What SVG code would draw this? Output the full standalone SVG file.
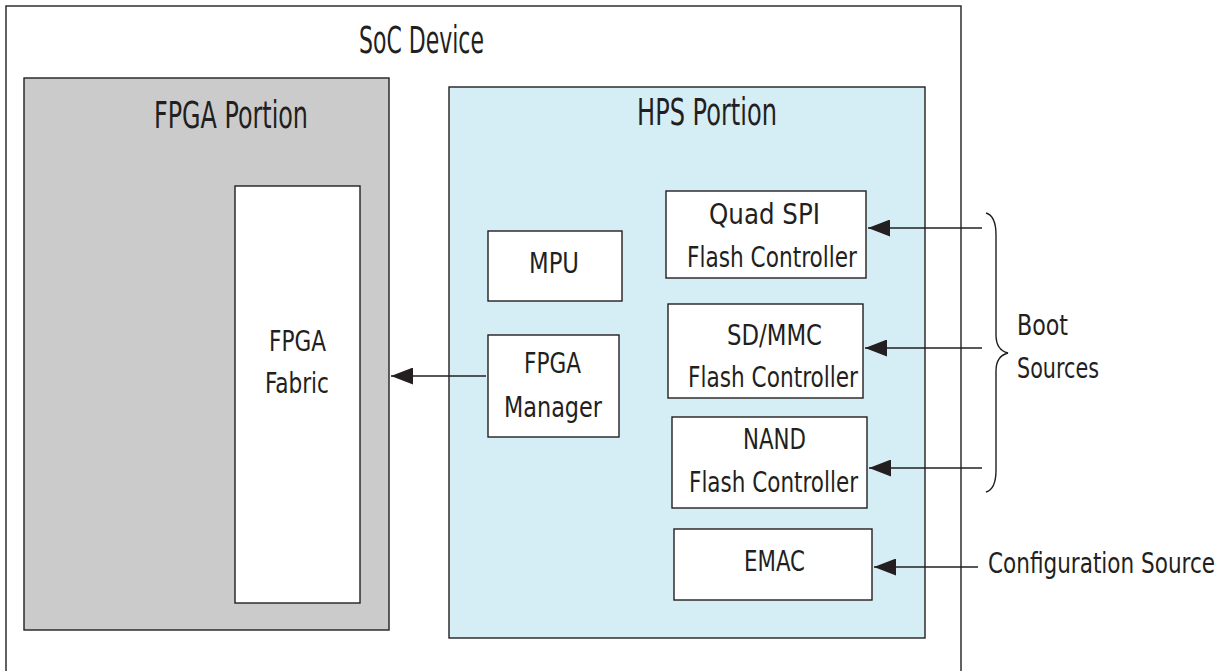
<svg xmlns="http://www.w3.org/2000/svg" width="1229" height="671" viewBox="0 0 1229 671">
<style>
.box{stroke:#231f20;stroke-width:1.4;}
.w{fill:#ffffff;}
.t{font-family:"Liberation Sans Narrow","DejaVu Sans Condensed","Liberation Sans",sans-serif;font-stretch:condensed;fill:#231f20;font-size:29px;}
.h{font-size:37px;}
.m{text-anchor:middle;}
.c{stroke:#231f20;stroke-width:1.4;fill:none;}
</style>
<defs>
<marker id="ah" viewBox="0 0 22 17" refX="22" refY="8.5" markerWidth="22" markerHeight="17" markerUnits="userSpaceOnUse" orient="auto">
<path d="M0,0 L22,8.5 L0,17 z" fill="#231f20"/>
</marker>
</defs>
<rect width="1229" height="671" fill="#ffffff"/>
<g id="soc">
<rect class="box" x="6" y="6" width="955" height="700" fill="#ffffff"/>
<text class="t h m" x="421.5" y="53" textLength="125" lengthAdjust="spacingAndGlyphs">SoC Device</text>
</g>
<g id="fpga-portion">
<rect class="box" x="24" y="78" width="365" height="552" fill="#cbcbcb"/>
<text class="t h m" x="231" y="128" textLength="154" lengthAdjust="spacingAndGlyphs">FPGA Portion</text>
</g>
<g id="fpga-fabric">
<rect class="box w" x="235" y="186" width="125" height="417"/>
<text class="t m" x="297.5" y="351" textLength="57" lengthAdjust="spacingAndGlyphs">FPGA</text>
<text class="t m" x="297" y="393" textLength="64" lengthAdjust="spacingAndGlyphs">Fabric</text>
</g>
<g id="hps-portion">
<rect class="box" x="449" y="87" width="476" height="551" fill="#d5edf4"/>
<text class="t h m" x="707" y="125" textLength="140" lengthAdjust="spacingAndGlyphs">HPS Portion</text>
</g>
<g id="mpu">
<rect class="box w" x="488" y="231" width="134" height="70"/>
<text class="t m" x="554" y="273" textLength="50" lengthAdjust="spacingAndGlyphs">MPU</text>
</g>
<g id="fpga-manager">
<rect class="box w" x="488" y="335" width="131" height="102"/>
<text class="t m" x="552.5" y="373" textLength="57" lengthAdjust="spacingAndGlyphs">FPGA</text>
<text class="t m" x="553" y="417" textLength="98" lengthAdjust="spacingAndGlyphs">Manager</text>
</g>
<g id="qspi">
<rect class="box w" x="666" y="191" width="200" height="87"/>
<text class="t m" x="764.5" y="224" textLength="111" lengthAdjust="spacingAndGlyphs">Quad SPI</text>
<text class="t m" x="772" y="267" textLength="170" lengthAdjust="spacingAndGlyphs">Flash Controller</text>
</g>
<g id="sdmmc">
<rect class="box w" x="668" y="304" width="195" height="94"/>
<text class="t m" x="774.5" y="345" textLength="95" lengthAdjust="spacingAndGlyphs">SD/MMC</text>
<text class="t m" x="773" y="387" textLength="170" lengthAdjust="spacingAndGlyphs">Flash Controller</text>
</g>
<g id="nand">
<rect class="box w" x="672" y="417" width="195" height="91"/>
<text class="t m" x="774.5" y="449" textLength="63" lengthAdjust="spacingAndGlyphs">NAND</text>
<text class="t m" x="773.5" y="492" textLength="169" lengthAdjust="spacingAndGlyphs">Flash Controller</text>
</g>
<g id="emac">
<rect class="box w" x="674" y="529" width="198" height="71"/>
<text class="t m" x="774.5" y="571" textLength="61" lengthAdjust="spacingAndGlyphs">EMAC</text>
</g>
<g id="boot-sources">
<path class="c" d="M986,213 C993,215 996,222 996,235 L996,335 C996,346 1000,351 1008,353 C1000,355 996,360 996,371 L996,470 C996,483 993,490 986,492"/>
<text class="t" x="1017" y="335" textLength="51" lengthAdjust="spacingAndGlyphs">Boot</text>
<text class="t" x="1017" y="378" textLength="82" lengthAdjust="spacingAndGlyphs">Sources</text>
</g>
<g id="config-source">
<text class="t" transform="translate(988,573) scale(0.8255,1)" x="0" y="0" textLength="275" lengthAdjust="spacingAndGlyphs">Configuration Source</text>
</g>
<g id="connectors">
<line class="c" x1="486" y1="376" x2="391" y2="376" marker-end="url(#ah)"/>
<line class="c" x1="982" y1="228" x2="868" y2="228" marker-end="url(#ah)"/>
<line class="c" x1="982" y1="348" x2="865" y2="348" marker-end="url(#ah)"/>
<line class="c" x1="982" y1="468" x2="869" y2="468" marker-end="url(#ah)"/>
<line class="c" x1="978" y1="567" x2="874" y2="567" marker-end="url(#ah)"/>
</g>
</svg>
